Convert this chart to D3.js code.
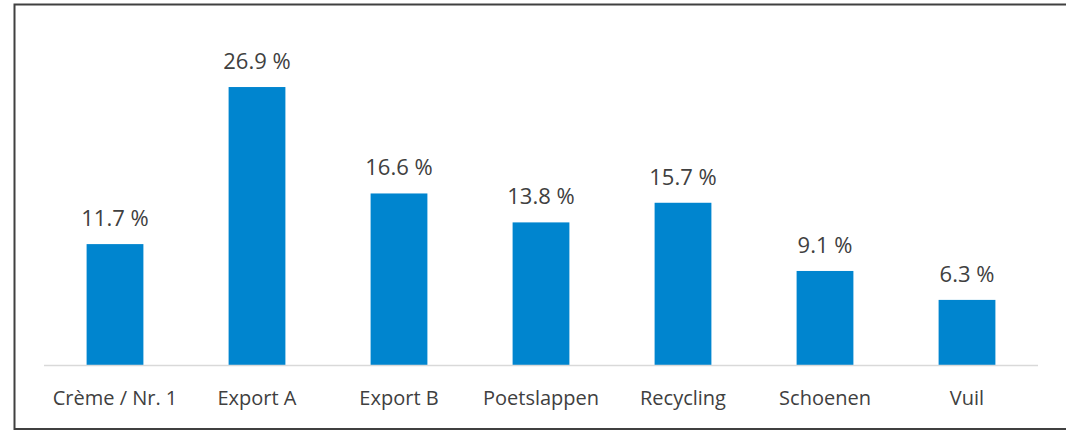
<!DOCTYPE html>
<html>
<head>
<meta charset="utf-8">
<script src="https://cdn.jsdelivr.net/npm/d3@7"></script>
<style>
  body { margin: 0; background: #fff; }
  text { font-family: "Open Sans", "Noto Sans", sans-serif; }
</style>
</head>
<body>
<div id="chart"></div>
<script>
var categories = ["Crème / Nr. 1", "Export A", "Export B", "Poetslappen", "Recycling", "Schoenen", "Vuil"];
var values = [11.7, 26.9, 16.6, 13.8, 15.7, 9.1, 6.3];

var width = 1066, height = 431;
var baseY = 365, left = 44, right = 1038;

var svg = d3.select("#chart")
    .append("svg")
    .attr("width", width)
    .attr("height", height);

// frame (runs off the right edge like the original)
svg.append("rect")
    .attr("x", 14.5)
    .attr("y", 4.5)
    .attr("width", 1070)
    .attr("height", 424.5)
    .attr("fill", "none")
    .attr("stroke", "#404040")
    .attr("stroke-width", 2);

var x = d3.scaleBand()
    .domain(categories)
    .range([left, right])
    .paddingInner(0.6)
    .paddingOuter(0.3);

var y = d3.scaleLinear()
    .domain([0, 30])
    .range([baseY, baseY - 310]);

svg.selectAll("rect.bar")
    .data(values)
    .enter()
    .append("rect")
    .attr("class", "bar")
    .attr("x", function(d, i) { return x(categories[i]); })
    .attr("y", function(d) { return y(d); })
    .attr("width", x.bandwidth())
    .attr("height", function(d) { return y(0) - y(d); })
    .attr("fill", "#0085cf");

// baseline
svg.append("line")
    .attr("x1", left)
    .attr("x2", right)
    .attr("y1", baseY + 0.5)
    .attr("y2", baseY + 0.5)
    .attr("stroke", "#d9d9d9")
    .attr("stroke-width", 1.5);

// value labels
svg.selectAll("text.val")
    .data(values)
    .enter()
    .append("text")
    .attr("class", "val")
    .attr("x", function(d, i) { return x(categories[i]) + x.bandwidth() / 2; })
    .attr("y", function(d) { return y(d) - 18; })
    .attr("text-anchor", "middle")
    .style("font-size", "22px")
    .style("fill", "#404040")
    .text(function(d) { return d.toFixed(1) + " %"; });

// category labels
svg.selectAll("text.cat")
    .data(categories)
    .enter()
    .append("text")
    .attr("class", "cat")
    .attr("x", function(d) { return x(d) + x.bandwidth() / 2; })
    .attr("y", 405)
    .attr("text-anchor", "middle")
    .style("font-size", "20px")
    .style("fill", "#404040")
    .text(function(d) { return d; });
</script>
</body>
</html>
